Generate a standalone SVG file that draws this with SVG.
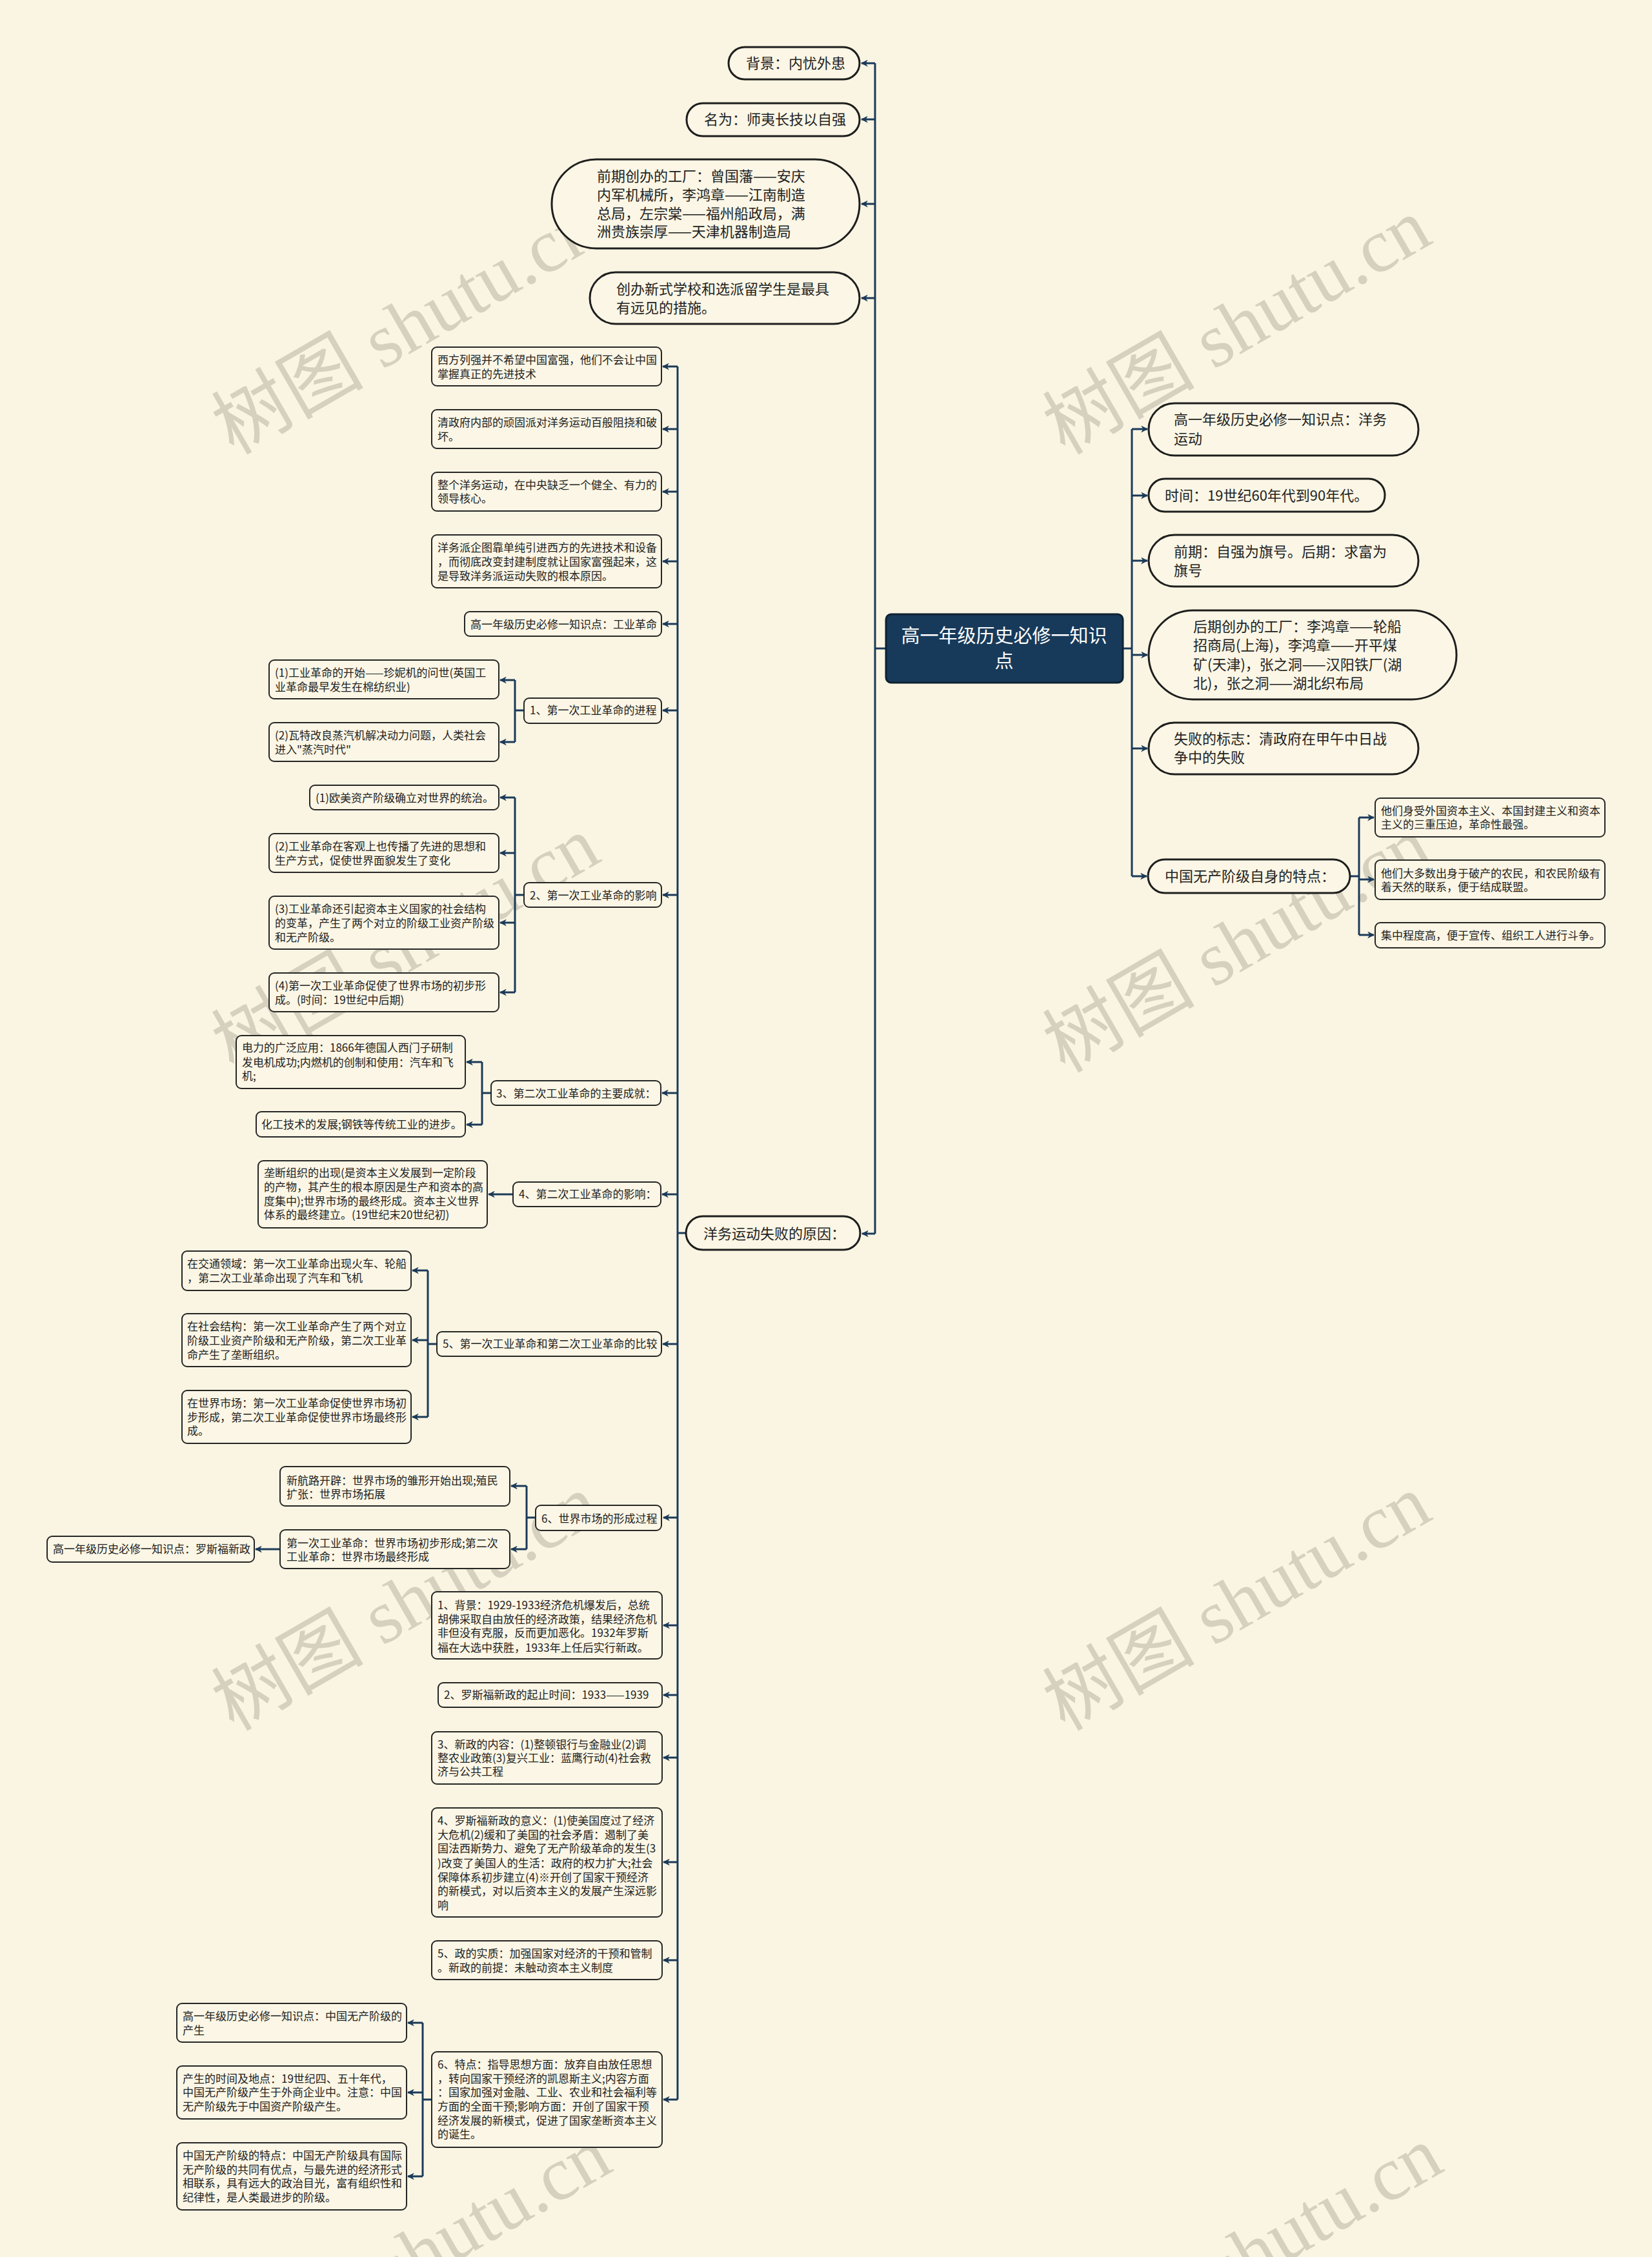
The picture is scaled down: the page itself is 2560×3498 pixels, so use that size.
<svg xmlns="http://www.w3.org/2000/svg" width="2560" height="3498" viewBox="0 0 2560 3498">
<style>
.bg{fill:#faf5e2}
.pill rect{fill:#fbf6e5;stroke:#1e1e1e;stroke-width:3}
.box rect{fill:#fbf6e5;stroke:#262626;stroke-width:2}
text{font-family:"Noto Sans CJK SC","Noto Sans",sans-serif;fill:#222}
.pill text{font-size:22px}
.box text{font-size:17px}
.root rect{fill:#183a5a;stroke:#0e2233;stroke-width:3}
.root text{fill:#ffffff;font-size:29px;text-anchor:middle}
.c path{fill:none;stroke:#1b3a5a;stroke-width:3;stroke-linejoin:round}
.c path.a{marker-end:url(#arr)}
.wm text{font-family:"Liberation Serif","Noto Sans CJK SC",serif;font-size:118px;fill:#b8b4a2;opacity:.55}
</style>
<defs>
<marker id="arr" viewBox="0 0 10 10" refX="9" refY="5" markerWidth="11" markerHeight="11" orient="auto" markerUnits="userSpaceOnUse">
<path d="M0,0 L10,5 L0,10 L3,5 z" fill="#1b3a5a"/>
</marker>
</defs>
<rect class="bg" x="0" y="0" width="2560" height="3498"/>

<g class="wm">
<text transform="translate(362,706) rotate(-30)">树图 shutu.cn</text>
<text transform="translate(1650,706) rotate(-30)">树图 shutu.cn</text>
<text transform="translate(362,1664) rotate(-30)">树图 shutu.cn</text>
<text transform="translate(1650,1664) rotate(-30)">树图 shutu.cn</text>
<text transform="translate(362,2684) rotate(-30)">树图 shutu.cn</text>
<text transform="translate(1650,2684) rotate(-30)">树图 shutu.cn</text>
<text transform="translate(380,3694) rotate(-30)">树图 shutu.cn</text>
<text transform="translate(1668,3694) rotate(-30)">树图 shutu.cn</text>
</g>

<g class="c" id="connectors">
<path d="M1373,1005 H1356"/>
<path d="M1356,98 V1912"/>
<path class="a" d="M1356,98 H1335"/>
<path class="a" d="M1356,185 H1335"/>
<path class="a" d="M1356,316 H1335"/>
<path class="a" d="M1356,462 H1335"/>
<path class="a" d="M1356,1912 H1336"/>
<path d="M1740,1005 H1754"/>
<path d="M1754,665 V1358"/>
<path class="a" d="M1754,665 H1778"/>
<path class="a" d="M1754,768 H1778"/>
<path class="a" d="M1754,869 H1778"/>
<path class="a" d="M1754,1015 H1778"/>
<path class="a" d="M1754,1160 H1778"/>
<path class="a" d="M1754,1358 H1777"/>
<path d="M2092,1358 H2106"/>
<path d="M2106,1267 V1449"/>
<path class="a" d="M2106,1267 H2129"/>
<path class="a" d="M2106,1363 H2129"/>
<path class="a" d="M2106,1449 H2129"/>
<path d="M1063,1911 H1050"/>
<path d="M1050,568 V3254"/>
<path class="a" d="M1050,568 H1027"/>
<path class="a" d="M1050,665 H1027"/>
<path class="a" d="M1050,762 H1027"/>
<path class="a" d="M1050,870 H1027"/>
<path class="a" d="M1050,967 H1027"/>
<path class="a" d="M1050,1101 H1027"/>
<path class="a" d="M1050,1387 H1027"/>
<path class="a" d="M1050,1694 H1026"/>
<path class="a" d="M1050,1851 H1026"/>
<path class="a" d="M1050,2083 H1027"/>
<path class="a" d="M1050,2352 H1028"/>
<path class="a" d="M1050,2519 H1028"/>
<path class="a" d="M1050,2627 H1028"/>
<path class="a" d="M1050,2724 H1028"/>
<path class="a" d="M1050,2886 H1028"/>
<path class="a" d="M1050,3038 H1028"/>
<path class="a" d="M1050,3254 H1028"/>
<path d="M812,1101 H798"/>
<path d="M798,1054 V1150"/>
<path class="a" d="M798,1054 H775"/>
<path class="a" d="M798,1150 H775"/>
<path d="M812,1387 H798"/>
<path d="M798,1236 V1538"/>
<path class="a" d="M798,1236 H775"/>
<path class="a" d="M798,1322 H775"/>
<path class="a" d="M798,1430 H775"/>
<path class="a" d="M798,1538 H775"/>
<path d="M761,1694 H747"/>
<path d="M747,1646 V1743"/>
<path class="a" d="M747,1646 H723"/>
<path class="a" d="M747,1743 H723"/>
<path class="a" d="M795,1851 H757"/>
<path d="M677,2083 H663"/>
<path d="M663,1969 V2196"/>
<path class="a" d="M663,1969 H639"/>
<path class="a" d="M663,2077 H639"/>
<path class="a" d="M663,2196 H639"/>
<path d="M830,2352 H816"/>
<path d="M816,2303 V2401"/>
<path class="a" d="M816,2303 H792"/>
<path class="a" d="M816,2401 H792"/>
<path class="a" d="M434,2401 H396"/>
<path d="M669,3254 H655"/>
<path d="M655,3135 V3373"/>
<path class="a" d="M655,3135 H632"/>
<path class="a" d="M655,3243 H632"/>
<path class="a" d="M655,3373 H632"/>
</g>

<g class="root" id="root">
<rect x="1373" y="952" width="367" height="106" rx="8"/>
<text x="1556" y="996">高一年级历史必修一知识</text>
<text x="1556" y="1035">点</text>
</g>

<g class="pill" id="p-bg"><rect x="1129" y="73" width="203" height="50" rx="25"/><text x="1156" y="106">背景：内忧外患</text></g>
<g class="pill" id="p-mw"><rect x="1064" y="160" width="268" height="51" rx="25"/><text x="1091" y="193">名为：师夷长技以自强</text></g>
<g class="pill" id="p-qq"><rect x="855" y="247" width="477" height="138" rx="69"/>
<text x="925" y="281">前期创办的工厂：曾国藩——安庆</text>
<text x="925" y="310">内军机械所，李鸿章——江南制造</text>
<text x="925" y="339">总局，左宗棠——福州船政局，满</text>
<text x="925" y="367">洲贵族崇厚——天津机器制造局</text></g>
<g class="pill" id="p-cb"><rect x="914" y="422" width="418" height="80" rx="40"/>
<text x="955" y="456">创办新式学校和选派留学生是最具</text>
<text x="955" y="485">有远见的措施。</text></g>
<g class="pill" id="p-sb"><rect x="1063" y="1885" width="270" height="52" rx="26"/><text x="1090" y="1920">洋务运动失败的原因：</text></g>

<g class="pill" id="r1"><rect x="1780" y="625" width="418" height="81" rx="40"/>
<text x="1819" y="658">高一年级历史必修一知识点：洋务</text>
<text x="1819" y="688">运动</text></g>
<g class="pill" id="r2"><rect x="1780" y="742" width="366" height="51" rx="25"/><text x="1805" y="776">时间：19世纪60年代到90年代。</text></g>
<g class="pill" id="r3"><rect x="1780" y="829" width="418" height="80" rx="40"/>
<text x="1819" y="863">前期：自强为旗号。后期：求富为</text>
<text x="1819" y="892">旗号</text></g>
<g class="pill" id="r4"><rect x="1780" y="946" width="477" height="138" rx="69"/>
<text x="1849" y="979">后期创办的工厂：李鸿章——轮船</text>
<text x="1849" y="1008">招商局(上海)，李鸿章——开平煤</text>
<text x="1849" y="1038">矿(天津)，张之洞——汉阳铁厂(湖</text>
<text x="1849" y="1067">北)，张之洞——湖北织布局</text></g>
<g class="pill" id="r5"><rect x="1780" y="1120" width="418" height="80" rx="40"/>
<text x="1819" y="1153">失败的标志：清政府在甲午中日战</text>
<text x="1819" y="1182">争中的失败</text></g>
<g class="pill" id="r6"><rect x="1779" y="1332" width="313" height="52" rx="26"/><text x="1805" y="1366">中国无产阶级自身的特点：</text></g>

<g class="box" id="r6a"><rect x="2131" y="1237" width="356" height="60" rx="8"/>
<text x="2140" y="1263">他们身受外国资本主义、本国封建主义和资本</text>
<text x="2140" y="1284">主义的三重压迫，革命性最强。</text></g>
<g class="box" id="r6b"><rect x="2131" y="1333" width="356" height="61" rx="8"/>
<text x="2140" y="1360">他们大多数出身于破产的农民，和农民阶级有</text>
<text x="2140" y="1381">着天然的联系，便于结成联盟。</text></g>
<g class="box" id="r6c"><rect x="2131" y="1430" width="356" height="39" rx="8"/>
<text x="2140" y="1456">集中程度高，便于宣传、组织工人进行斗争。</text></g>

<g class="box" id="a1"><rect x="669" y="538" width="356" height="60" rx="8"/>
<text x="678" y="564">西方列强并不希望中国富强，他们不会让中国</text>
<text x="678" y="586">掌握真正的先进技术</text></g>
<g class="box" id="a2"><rect x="669" y="635" width="356" height="60" rx="8"/>
<text x="678" y="661">清政府内部的顽固派对洋务运动百般阻挠和破</text>
<text x="678" y="683">坏。</text></g>
<g class="box" id="a3"><rect x="669" y="732" width="356" height="60" rx="8"/>
<text x="678" y="758">整个洋务运动，在中央缺乏一个健全、有力的</text>
<text x="678" y="779">领导核心。</text></g>
<g class="box" id="a4"><rect x="669" y="829" width="356" height="82" rx="8"/>
<text x="678" y="855">洋务派企图靠单纯引进西方的先进技术和设备</text>
<text x="678" y="877">，而彻底改变封建制度就让国家富强起来，这</text>
<text x="678" y="899">是导致洋务派运动失败的根本原因。</text></g>
<g class="box" id="a5"><rect x="720" y="948" width="305" height="38" rx="8"/>
<text x="729" y="974">高一年级历史必修一知识点：工业革命</text></g>
<g class="box" id="a6"><rect x="812" y="1082" width="213" height="39" rx="8"/>
<text x="821" y="1107">1、第一次工业革命的进程</text></g>
<g class="box" id="b1"><rect x="417" y="1023" width="356" height="60" rx="8"/>
<text x="426" y="1049">(1)工业革命的开始——珍妮机的问世(英国工</text>
<text x="426" y="1071">业革命最早发生在棉纺织业)</text></g>
<g class="box" id="b2"><rect x="417" y="1120" width="356" height="60" rx="8"/>
<text x="426" y="1146">(2)瓦特改良蒸汽机解决动力问题，人类社会</text>
<text x="426" y="1168">进入"蒸汽时代"</text></g>
<g class="box" id="a7"><rect x="812" y="1368" width="213" height="38" rx="8"/>
<text x="821" y="1394">2、第一次工业革命的影响</text></g>
<g class="box" id="b3"><rect x="480" y="1217" width="293" height="38" rx="8"/>
<text x="489" y="1243">(1)欧美资产阶级确立对世界的统治。</text></g>
<g class="box" id="b4"><rect x="417" y="1292" width="356" height="60" rx="8"/>
<text x="426" y="1318">(2)工业革命在客观上也传播了先进的思想和</text>
<text x="426" y="1340">生产方式，促使世界面貌发生了变化</text></g>
<g class="box" id="b5"><rect x="417" y="1389" width="356" height="82" rx="8"/>
<text x="426" y="1415">(3)工业革命还引起资本主义国家的社会结构</text>
<text x="426" y="1437">的变革，产生了两个对立的阶级工业资产阶级</text>
<text x="426" y="1459">和无产阶级。</text></g>
<g class="box" id="b6"><rect x="417" y="1508" width="356" height="60" rx="8"/>
<text x="426" y="1534">(4)第一次工业革命促使了世界市场的初步形</text>
<text x="426" y="1556">成。(时间：19世纪中后期)</text></g>
<g class="box" id="a8"><rect x="761" y="1675" width="263" height="38" rx="8"/>
<text x="769" y="1701">3、第二次工业革命的主要成就：</text></g>
<g class="box" id="b7"><rect x="366" y="1605" width="355" height="82" rx="8"/>
<text x="375" y="1630">电力的广泛应用：1866年德国人西门子研制</text>
<text x="375" y="1653">发电机成功;内燃机的创制和使用：汽车和飞</text>
<text x="375" y="1674">机;</text></g>
<g class="box" id="b8"><rect x="397" y="1723" width="324" height="39" rx="8"/>
<text x="405" y="1749">化工技术的发展;钢铁等传统工业的进步。</text></g>
<g class="box" id="a9"><rect x="795" y="1832" width="229" height="38" rx="8"/>
<text x="804" y="1857">4、第二次工业革命的影响：</text></g>
<g class="box" id="b9"><rect x="400" y="1799" width="355" height="104" rx="8"/>
<text x="409" y="1824">垄断组织的出现(是资本主义发展到一定阶段</text>
<text x="409" y="1846">的产物，其产生的根本原因是生产和资本的高</text>
<text x="409" y="1868">度集中);世界市场的最终形成。资本主义世界</text>
<text x="409" y="1889">体系的最终建立。(19世纪末20世纪初)</text></g>
<g class="box" id="a10"><rect x="677" y="2064" width="348" height="38" rx="8"/>
<text x="686" y="2089">5、第一次工业革命和第二次工业革命的比较</text></g>
<g class="box" id="b10"><rect x="282" y="1939" width="355" height="61" rx="8"/>
<text x="290" y="1965">在交通领域：第一次工业革命出现火车、轮船</text>
<text x="290" y="1987">，第二次工业革命出现了汽车和飞机</text></g>
<g class="box" id="b11"><rect x="282" y="2036" width="355" height="82" rx="8"/>
<text x="290" y="2062">在社会结构：第一次工业革命产生了两个对立</text>
<text x="290" y="2084">阶级工业资产阶级和无产阶级，第二次工业革</text>
<text x="290" y="2106">命产生了垄断组织。</text></g>
<g class="box" id="b12"><rect x="282" y="2155" width="355" height="82" rx="8"/>
<text x="290" y="2181">在世界市场：第一次工业革命促使世界市场初</text>
<text x="290" y="2203">步形成，第二次工业革命促使世界市场最终形</text>
<text x="290" y="2224">成。</text></g>
<g class="box" id="a11"><rect x="830" y="2333" width="195" height="39" rx="8"/>
<text x="839" y="2360">6、世界市场的形成过程</text></g>
<g class="box" id="b13"><rect x="434" y="2273" width="356" height="61" rx="8"/>
<text x="444" y="2301">新航路开辟：世界市场的雏形开始出现;殖民</text>
<text x="444" y="2322">扩张：世界市场拓展</text></g>
<g class="box" id="b14"><rect x="434" y="2371" width="356" height="60" rx="8"/>
<text x="444" y="2398">第一次工业革命：世界市场初步形成;第二次</text>
<text x="444" y="2419">工业革命：世界市场最终形成</text></g>
<g class="box" id="b15"><rect x="73" y="2381" width="321" height="40" rx="8"/>
<text x="82" y="2407">高一年级历史必修一知识点：罗斯福新政</text></g>
<g class="box" id="a12"><rect x="669" y="2467" width="357" height="104" rx="8"/>
<text x="678" y="2494">1、背景：1929-1933经济危机爆发后，总统</text>
<text x="678" y="2516">胡佛采取自由放任的经济政策，结果经济危机</text>
<text x="678" y="2537">非但没有克服，反而更加恶化。1932年罗斯</text>
<text x="678" y="2560">福在大选中获胜，1933年上任后实行新政。</text></g>
<g class="box" id="a13"><rect x="679" y="2608" width="347" height="38" rx="8"/>
<text x="688" y="2633">2、罗斯福新政的起止时间：1933——1939</text></g>
<g class="box" id="a14"><rect x="669" y="2684" width="357" height="81" rx="8"/>
<text x="678" y="2710">3、新政的内容：(1)整顿银行与金融业(2)调</text>
<text x="678" y="2731">整农业政策(3)复兴工业：蓝鹰行动(4)社会救</text>
<text x="678" y="2752">济与公共工程</text></g>
<g class="box" id="a15"><rect x="669" y="2802" width="357" height="169" rx="8"/>
<text x="678" y="2828">4、罗斯福新政的意义：(1)使美国度过了经济</text>
<text x="678" y="2850">大危机(2)缓和了美国的社会矛盾：遏制了美</text>
<text x="678" y="2871">国法西斯势力、避免了无产阶级革命的发生(3</text>
<text x="678" y="2894">)改变了美国人的生活：政府的权力扩大;社会</text>
<text x="678" y="2916">保障体系初步建立(4)※开创了国家干预经济</text>
<text x="678" y="2937">的新模式，对以后资本主义的发展产生深远影</text>
<text x="678" y="2959">响</text></g>
<g class="box" id="a16"><rect x="669" y="3008" width="357" height="60" rx="8"/>
<text x="678" y="3034">5、政的实质：加强国家对经济的干预和管制</text>
<text x="678" y="3056">。新政的前提：未触动资本主义制度</text></g>
<g class="box" id="a17"><rect x="669" y="3180" width="357" height="148" rx="8"/>
<text x="678" y="3206">6、特点：指导思想方面：放弃自由放任思想</text>
<text x="678" y="3228">，转向国家干预经济的凯恩斯主义;内容方面</text>
<text x="678" y="3249">：国家加强对金融、工业、农业和社会福利等</text>
<text x="678" y="3271">方面的全面干预;影响方面：开创了国家干预</text>
<text x="678" y="3293">经济发展的新模式，促进了国家垄断资本主义</text>
<text x="678" y="3314">的诞生。</text></g>
<g class="box" id="b16"><rect x="274" y="3105" width="356" height="60" rx="8"/>
<text x="283" y="3131">高一年级历史必修一知识点：中国无产阶级的</text>
<text x="283" y="3153">产生</text></g>
<g class="box" id="b17"><rect x="274" y="3202" width="356" height="82" rx="8"/>
<text x="283" y="3228">产生的时间及地点：19世纪四、五十年代，</text>
<text x="283" y="3249">中国无产阶级产生于外商企业中。注意：中国</text>
<text x="283" y="3271">无产阶级先于中国资产阶级产生。</text></g>
<g class="box" id="b18"><rect x="274" y="3321" width="356" height="104" rx="8"/>
<text x="283" y="3347">中国无产阶级的特点：中国无产阶级具有国际</text>
<text x="283" y="3369">无产阶级的共同有优点，与最先进的经济形式</text>
<text x="283" y="3390">相联系，具有远大的政治目光，富有组织性和</text>
<text x="283" y="3412">纪律性，是人类最进步的阶级。</text></g>
</svg>
